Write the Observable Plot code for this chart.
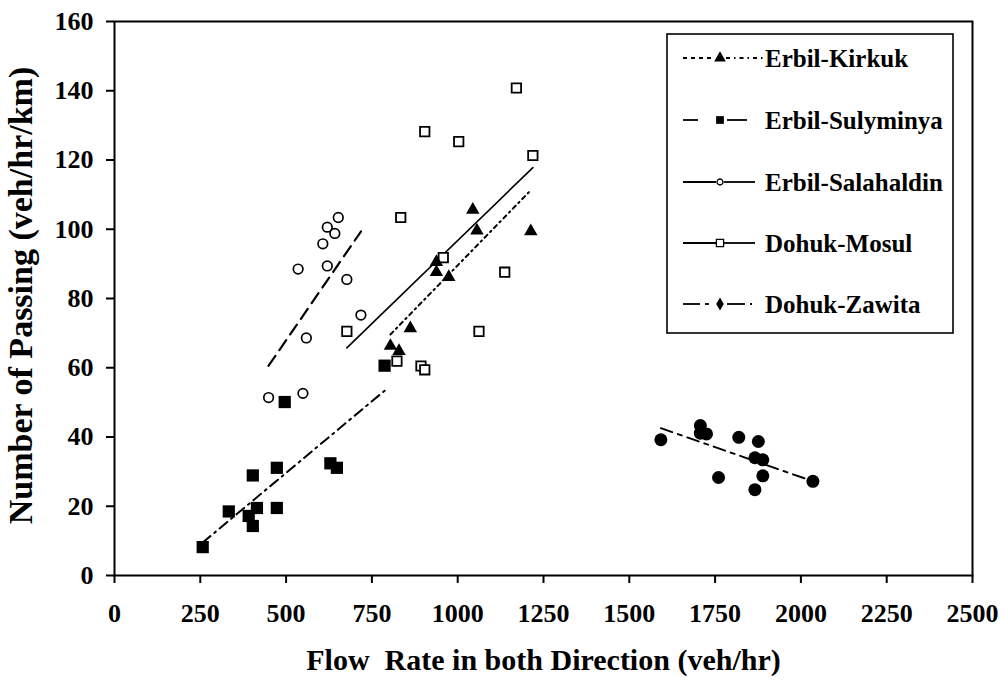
<!DOCTYPE html>
<html>
<head>
<meta charset="utf-8">
<script src="https://cdn.jsdelivr.net/npm/d3@7"></script>
<script src="https://cdn.jsdelivr.net/npm/@observablehq/plot@0.6"></script>
<style>
  html, body { margin: 0; padding: 0; background: #fff; }
  #chart { width: 1001px; height: 680px; }
</style>
</head>
<body>
<div id="chart"></div>
<script>
// ---- Data ----
const xTicks = [0, 250, 500, 750, 1000, 1250, 1500, 1750, 2000, 2250, 2500];
const yTicks = [0, 20, 40, 60, 80, 100, 120, 140, 160];

const seriesNames = ["Erbil-Kirkuk", "Erbil-Sulyminya", "Erbil-Salahaldin", "Dohuk-Mosul", "Dohuk-Zawita"];

const kirkukX = [804, 829, 862, 938, 938, 974, 1044, 1056, 1213];
const kirkukY = [66.3, 64.8, 71.4, 90.5, 87.6, 86.2, 105.6, 99.6, 99.4];

const sulyminyaX = [257, 333, 391, 403, 403, 415, 473, 473, 496, 629, 648, 787];
const sulyminyaY = [8.2, 18.5, 17.2, 28.9, 14.3, 19.5, 31.1, 19.5, 50.1, 32.4, 31.1, 60.6];

const salahaldinX = [449, 535, 549, 559, 607, 620, 620, 642, 652, 677, 718];
const salahaldinY = [51.4, 88.5, 52.6, 68.6, 95.8, 100.6, 89.4, 98.8, 103.4, 85.5, 75.2];

const mosulX = [677, 823, 834, 893, 904, 904, 958, 1003, 1062, 1137, 1171, 1219];
const mosulY = [70.5, 61.9, 103.4, 60.5, 59.4, 128.2, 91.8, 125.3, 70.5, 87.6, 140.8, 121.3];

const zawitaX = [1592, 1707, 1707, 1725, 1760, 1819, 1866, 1866, 1876, 1889, 1889, 2035];
const zawitaY = [39.2, 43.3, 41.1, 40.9, 28.3, 39.9, 34.0, 24.8, 38.7, 33.4, 28.8, 27.2];

const xTitle = "Flow  Rate in both Direction (veh/hr)";
const yTitle = "Number of Passing (veh/hr/km)";

// ---- Build tables ----
const zip = (xs, ys) => xs.map((x, i) => ({x, y: ys[i]}));
const kirkuk = zip(kirkukX, kirkukY);
const sulyminya = zip(sulyminyaX, sulyminyaY);
const salahaldin = zip(salahaldinX, salahaldinY);
const mosul = zip(mosulX, mosulY);
const zawita = zip(zawitaX, zawitaY);

const FONT = "'Liberation Serif', 'Times New Roman', Times, serif";

const reg = (data, dash, sw) => Plot.linearRegressionY(data, {
  x: "x", y: "y", ci: 0, stroke: "black", strokeWidth: sw, strokeDasharray: dash
});

const chart = Plot.plot({
  width: 1001,
  height: 680,
  marginLeft: 114,
  marginRight: 29,
  marginTop: 21,
  marginBottom: 105,
  style: {fontFamily: FONT, fontWeight: "bold", background: "white", color: "black"},
  x: {domain: [0, 2500]},
  y: {domain: [0, 160]},
  marks: [
    Plot.frame({stroke: "black", strokeWidth: 2}),
    Plot.axisX({ticks: xTicks, tickSize: 8, tickPadding: 20, fontSize: 26, fontWeight: "bold",
                strokeWidth: 2, tickFormat: d => String(d), label: null}),
    Plot.axisY({ticks: yTicks, tickSize: 8, tickPadding: 13, fontSize: 26, fontWeight: "bold",
                strokeWidth: 2, tickFormat: d => String(d), label: null}),
    reg(kirkuk, "4,4,1.5,4", 2),
    reg(sulyminya, "10,5,2,5", 2),
    reg(salahaldin, "12,7", 2.2),
    reg(mosul, null, 1.6),
    reg(zawita, "12,6,4,6", 2),
    Plot.dot(mosul, {x: "x", y: "y", symbol: "square", r: 5.3, fill: "white", stroke: "black", strokeWidth: 1.8}),
    Plot.dot(salahaldin, {x: "x", y: "y", symbol: "circle", r: 4.8, fill: "white", stroke: "black", strokeWidth: 1.7}),
    Plot.dot(sulyminya, {x: "x", y: "y", symbol: "square", r: 6.9, fill: "black", stroke: "none"}),
    Plot.dot(kirkuk, {x: "x", y: "y", symbol: "triangle", r: 5, fill: "black", stroke: "none"}),
    Plot.dot(zawita, {x: "x", y: "y", symbol: "circle", r: 6.5, fill: "black", stroke: "none"}),
    Plot.text([xTitle], {frameAnchor: "bottom", dy: 94, fontSize: 30, fontWeight: "bold", fill: "black", textAnchor: "middle"}),
    Plot.text([yTitle], {frameAnchor: "left", dx: -93, dy: -3, rotate: -90, textAnchor: "middle", fontSize: 34, fontWeight: "bold", fill: "black"})
  ]
});

document.getElementById("chart").appendChild(chart);

// ---- Legend (drawn inside the plot area, as in the reference) ----
const svg = d3.select(chart);
const lg = svg.append("g").attr("font-family", FONT).attr("font-weight", "bold").attr("font-size", 25)
  .attr("text-anchor", "start");
lg.append("rect").attr("x", 667).attr("y", 34).attr("width", 286).attr("height", 299)
  .attr("fill", "white").attr("stroke", "black").attr("stroke-width", 1.6);

const rowsY = [58, 120, 182, 243, 304];
const sym = (type, size) => d3.symbol().type(type).size(size)();
const legendSpec = [
  {segs: [[683, 714, "4,4"], [726, 763, "4,4,1.5,4"]], sym: d3.symbolTriangle, size: 60, fill: "black", stroke: "none"},
  {segs: [[683, 698, null], [727, 747, null]], sym: d3.symbolSquare, size: 60, fill: "black", stroke: "none"},
  {segs: [[683, 716, null], [724, 755, null]], sym: d3.symbolCircle, size: 28, fill: "white", stroke: "black"},
  {segs: [[683, 716, null], [724, 755, null]], sym: d3.symbolSquare, size: 52, fill: "white", stroke: "black"},
  {segs: [[683, 700, null], [705, 709, null], [727, 745, null], [750, 752, null]], sym: d3.symbolDiamond, size: 50, fill: "black", stroke: "none"}
];
legendSpec.forEach((s, i) => {
  const y = rowsY[i];
  s.segs.forEach(([x1, x2, dash]) => {
    const l = lg.append("line").attr("x1", x1).attr("x2", x2).attr("y1", y).attr("y2", y)
      .attr("stroke", "black").attr("stroke-width", 1.8);
    if (dash) l.attr("stroke-dasharray", dash);
  });
  lg.append("path").attr("d", sym(s.sym, s.size)).attr("transform", `translate(720,${y})`)
    .attr("fill", s.fill).attr("stroke", s.stroke).attr("stroke-width", 1.3);
  lg.append("text").attr("x", 765).attr("y", y).attr("dy", "0.35em").attr("fill", "black")
    .attr("text-anchor", "start").text(seriesNames[i]);
});
</script>
</body>
</html>
